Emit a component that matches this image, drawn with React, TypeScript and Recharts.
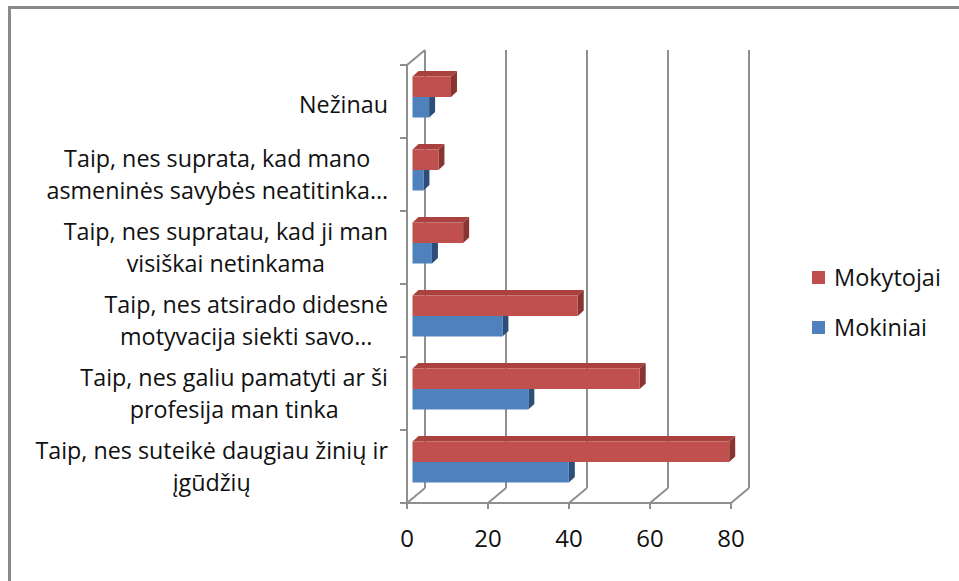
import { BarChart, Bar, XAxis, YAxis, CartesianGrid } from "recharts";

const categories = [
  "Nežinau",
  "Taip, nes suprata, kad mano asmeninės savybės neatitinka…",
  "Taip, nes supratau, kad ji man visiškai netinkama",
  "Taip, nes atsirado didesnė motyvacija siekti savo…",
  "Taip, nes galiu pamatyti ar ši profesija man tinka",
  "Taip, nes suteikė daugiau žinių ir įgūdžių",
];
const categoryLines = [
  ["Nežinau"],
  ["Taip, nes suprata, kad mano", "asmeninės savybės neatitinka…"],
  ["Taip, nes supratau, kad ji man", "visiškai netinkama"],
  ["Taip, nes atsirado didesnė", "motyvacija siekti savo…"],
  ["Taip, nes galiu pamatyti ar ši", "profesija man tinka"],
  ["Taip, nes suteikė daugiau žinių ir", "įgūdžių"],
];
const mokytojai = [9.5, 6.4, 12.5, 40.8, 56.1, 78.2];
const mokiniai = [4.1, 2.7, 4.8, 22.2, 28.6, 38.6];
const xTicks = [0, 20, 40, 60, 80];

const data = categories.map((name, i) => ({
  name,
  Mokytojai: mokytojai[i],
  Mokiniai: mokiniai[i],
}));

const FONT = "'Open Sans', sans-serif";
const LABEL_SIZE = 23.3;
const GRID = "#8f8f8f";
const BAND = 73;
// 3d depth of the back wall and of the bars
const DX = 18;
const DY = 15;
const BAR_SHIFT = 5.5;
const BDX = 6;
const BDY = 5.5;

let ctx: CanvasRenderingContext2D | null = null;
function textWidth(s: string, size: number) {
  if (!ctx) ctx = document.createElement("canvas").getContext("2d");
  if (!ctx) return s.length * size * 0.5;
  ctx.font = `${size}px ${FONT}`;
  return ctx.measureText(s).width;
}

function make3DBar(front: string, top: string, side: string, drawTop: boolean) {
  return (props: any) => {
    const { x, y, width, height } = props;
    if (width == null || width <= 0) return <g />;
    const fx = x + BAR_SHIFT;
    const fy = y - 4.5;
    const r = fx + width;
    return (
      <g>
        {drawTop && (
          <polygon
            points={`${fx},${fy} ${fx + BDX},${fy - BDY} ${r + BDX},${fy - BDY} ${r},${fy}`}
            fill={top}
          />
        )}
        <polygon
          points={
            drawTop
              ? `${r},${fy} ${r + BDX},${fy - BDY} ${r + BDX},${fy + height - BDY} ${r},${fy + height}`
              : `${r},${fy} ${r + BDX},${fy} ${r + BDX},${fy + height - BDY} ${r},${fy + height}`
          }
          fill={side}
        />
        <rect x={fx} y={fy} width={width} height={height} fill={front} />
      </g>
    );
  };
}

const redBar = make3DBar("#C0504D", "#A9423F", "#8A3432", true);
const blueBar = make3DBar("#4F81BD", "#3F6DA3", "#2C4E78", false);

function gridLine(props: any) {
  const { x1, y1, y2, index } = props;
  return (
    <g key={`vg-${index}`}>
      <line x1={x1 + DX} y1={y1 - DY} x2={x1 + DX} y2={y2 - DY} stroke={GRID} strokeWidth={2} />
      <line x1={x1} y1={y2} x2={x1 + DX} y2={y2 - DY} stroke={GRID} strokeWidth={2} />
      {index === 0 ? (
        <line x1={x1} y1={y1} x2={x1 + DX} y2={y1 - DY} stroke={GRID} strokeWidth={2} />
      ) : null}
    </g>
  );
}

function CategoryTick(props: any) {
  const { x, y, payload } = props;
  const idx = categories.indexOf(payload.value);
  const lines = categoryLines[idx] || [payload.value];
  const maxW = Math.max(...lines.map((l) => textWidth(l, LABEL_SIZE)));
  const cx = x - 12 - maxW / 2;
  const n = lines.length;
  const base = n === 1 ? 11 : 8.5;
  return (
    <g>
      <line x1={x} y1={y - BAND / 2} x2={x + 7} y2={y - BAND / 2} stroke={GRID} strokeWidth={2} />
      {idx === categories.length - 1 && (
        <line x1={x} y1={y + BAND / 2} x2={x + 7} y2={y + BAND / 2} stroke={GRID} strokeWidth={2} />
      )}
      {lines.map((l, i) => (
        <text
          key={i}
          x={cx}
          y={y + base + (i - (n - 1) / 2) * 31.5}
          textAnchor="middle"
          fontFamily={FONT}
          fontSize={LABEL_SIZE}
          fill="#111"
        >
          {l}
        </text>
      ))}
    </g>
  );
}

function ValueTick(props: any) {
  const { x, y, payload } = props;
  return (
    <text x={x} y={y + 36} textAnchor="middle" fontFamily={FONT} fontSize={24} fill="#111">
      {payload.value}
    </text>
  );
}

const legendItems = [
  { name: "Mokytojai", color: "#C0504D" },
  { name: "Mokiniai", color: "#4F81BD" },
];

export default function App() {
  return (
    <div
      style={{
        position: "absolute",
        left: 0,
        top: 0,
        width: 959,
        height: 581,
        background: "#fff",
        overflow: "hidden",
      }}
    >
      <div
        style={{
          position: "absolute",
          left: 8,
          top: 6,
          width: 1000,
          height: 700,
          borderLeft: "3px solid #8a8a8a",
          borderTop: "3px solid #8a8a8a",
        }}
      />
      <BarChart
        width={959}
        height={581}
        data={data}
        layout="vertical"
        margin={{ top: 65, right: 228, bottom: 0, left: 0 }}
        barGap={0}
        barSize={20.5}
        style={{ position: "absolute", left: 0, top: 0 }}
      >
        <CartesianGrid horizontal={false} vertical={gridLine} />
        <XAxis
          type="number"
          domain={[0, 80]}
          ticks={xTicks}
          height={78}
          axisLine={{ stroke: GRID, strokeWidth: 2 }}
          tickLine={{ stroke: GRID, strokeWidth: 2 }}
          tickSize={6}
          tick={<ValueTick />}
        />
        <YAxis
          type="category"
          dataKey="name"
          width={407}
          interval={0}
          axisLine={{ stroke: GRID, strokeWidth: 2 }}
          tickLine={false}
          tickSize={7}
          tickMargin={0}
          tick={<CategoryTick />}
        />
        <Bar dataKey="Mokytojai" isAnimationActive={false} shape={redBar} />
        <Bar dataKey="Mokiniai" isAnimationActive={false} shape={blueBar} />
      </BarChart>
      <div style={{ position: "absolute", left: 812, top: 252, fontFamily: FONT, fontSize: 23.5 }}>
        {legendItems.map((it) => (
          <div key={it.name} style={{ display: "flex", alignItems: "center", height: 50 }}>
            <span
              style={{ width: 13, height: 13, background: it.color, marginRight: 9, display: "inline-block" }}
            />
            <span style={{ color: "#111" }}>{it.name}</span>
          </div>
        ))}
      </div>
    </div>
  );
}
